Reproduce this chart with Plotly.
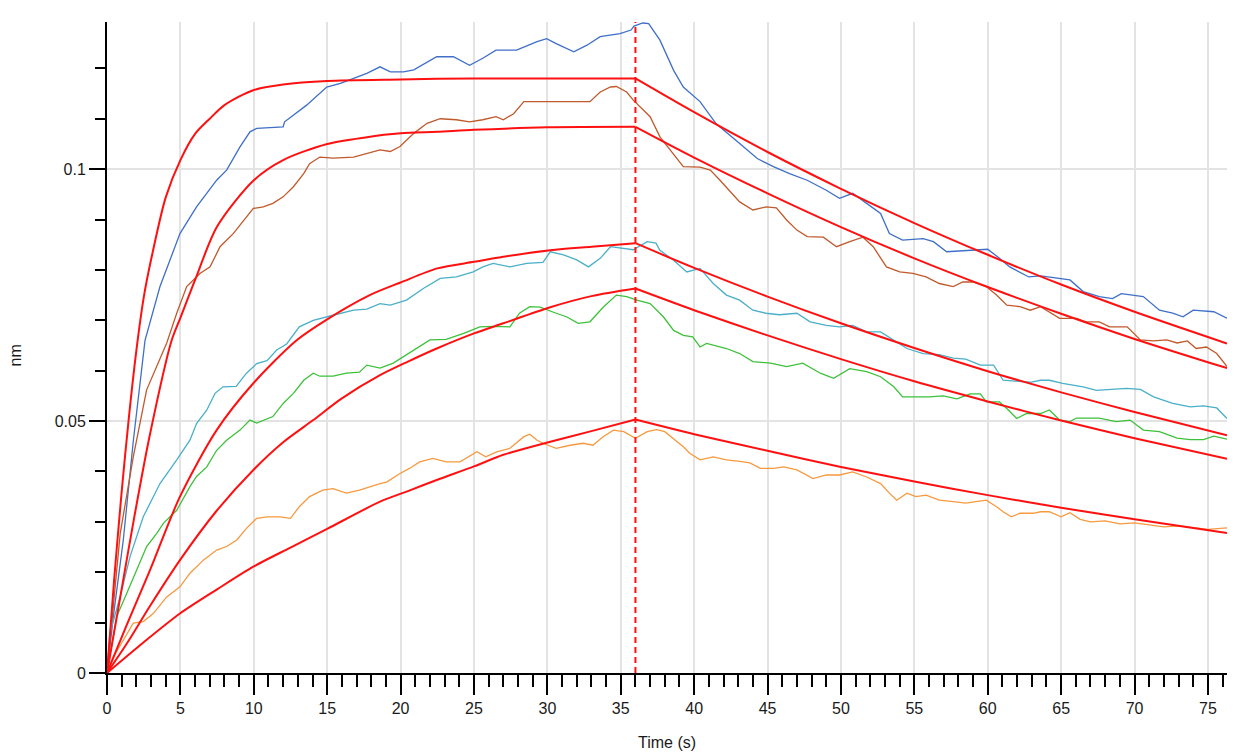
import plotly.graph_objects as go

# ---------------- data ----------------
blue_t = [0, 0.43, 1.11, 1.79, 2.59, 3.61, 4.97, 6.1, 7.47, 8.15, 9.06, 9.74, 10.2, 12.0, 12.1, 13.6, 14.97, 15.9, 16.8, 17.7, 18.6, 19.3, 20.2, 20.9, 22.46, 23.6, 24.7, 25.6, 26.5, 27.9, 29.3, 29.95, 30.6, 31.8, 32.7, 33.6, 34.95, 35.7, 35.9, 36.5, 36.9, 37.67, 38.6, 39.26, 40.4, 41.5, 43.1, 44.3, 45.4, 46.5, 47.7, 49.0, 49.9, 50.8, 51.75, 52.7, 53.3, 54.2, 55.6, 56.3, 57.2, 59.0, 60.0, 60.8, 61.5, 62.8, 63.6, 65.6, 66.5, 67.6, 68.5, 69.1, 70.6, 71.7, 72.6, 73.3, 74.0, 75.4, 76.3]
blue_v = [0, 0.0112, 0.0264, 0.046, 0.066, 0.0767, 0.0872, 0.0925, 0.0978, 0.0998, 0.1044, 0.1074, 0.1081, 0.1084, 0.1094, 0.1127, 0.1163, 0.117, 0.118, 0.119, 0.1203, 0.1193, 0.1193, 0.1197, 0.1223, 0.1223, 0.1206, 0.122, 0.1236, 0.1236, 0.1253, 0.1259, 0.1249, 0.1233, 0.1246, 0.1263, 0.1269, 0.1276, 0.1284, 0.1290, 0.1289, 0.1256, 0.1196, 0.1163, 0.1134, 0.109, 0.1051, 0.1021, 0.1005, 0.0991, 0.0978, 0.0958, 0.0942, 0.0952, 0.0932, 0.0912, 0.0872, 0.0859, 0.0862, 0.0856, 0.0836, 0.084, 0.0841, 0.0823, 0.0806, 0.0786, 0.0788, 0.078, 0.0757, 0.0747, 0.0743, 0.0753, 0.0747, 0.072, 0.0714, 0.0707, 0.072, 0.0717, 0.0704]

brown_t = [0, 0.9, 1.79, 2.7, 4.07, 4.75, 5.43, 6.33, 7.02, 7.7, 8.6, 9.5, 9.97, 10.65, 11.3, 12.0, 12.7, 13.4, 13.8, 14.5, 15.4, 16.8, 17.7, 18.6, 19.3, 19.96, 20.9, 21.8, 22.7, 23.8, 24.7, 25.6, 26.5, 27.0, 27.7, 28.4, 29.7, 31.1, 32.9, 33.6, 34.3, 34.7, 35.4, 35.85, 36.3, 37.0, 37.67, 38.35, 39.26, 40.4, 41.1, 41.76, 42.4, 43.1, 44.0, 44.9, 45.6, 46.3, 47.0, 47.7, 48.8, 49.7, 50.6, 51.5, 52.2, 53.1, 54.0, 54.9, 55.8, 56.7, 57.65, 58.3, 59.0, 59.9, 60.6, 61.3, 62.2, 62.9, 63.6, 64.2, 64.9, 66.05, 66.7, 67.6, 68.3, 69.5, 70.4, 71.3, 72.2, 72.9, 73.6, 74.2, 74.9, 75.6, 76.3]
brown_v = [0, 0.0277, 0.0429, 0.0562, 0.0655, 0.0714, 0.0767, 0.0793, 0.0806, 0.0846, 0.0872, 0.0905, 0.0922, 0.0925, 0.0932, 0.0945, 0.0965, 0.0991, 0.1011, 0.1024, 0.1022, 0.1024, 0.1031, 0.1038, 0.1035, 0.1045, 0.1071, 0.1091, 0.110, 0.1098, 0.1094, 0.1098, 0.1104, 0.1098, 0.111, 0.1134, 0.1134, 0.1134, 0.1134, 0.1153, 0.1163, 0.1164, 0.1153, 0.1137, 0.1124, 0.1104, 0.1064, 0.1038, 0.1005, 0.1004, 0.0998, 0.0978, 0.0958, 0.0935, 0.0919, 0.0925, 0.0923, 0.0899, 0.0879, 0.0866, 0.0865, 0.0846, 0.0856, 0.0865, 0.0846, 0.0806, 0.0796, 0.0793, 0.0786, 0.0773, 0.0767, 0.0776, 0.0776, 0.0767, 0.075, 0.073, 0.0727, 0.072, 0.0727, 0.0717, 0.0704, 0.0704, 0.0697, 0.0697, 0.0687, 0.0687, 0.0661, 0.0659, 0.0661, 0.0655, 0.0659, 0.0644, 0.0647, 0.0634, 0.0608]

cyan_t = [0, 0.2, 0.89, 1.57, 2.47, 3.61, 4.75, 5.65, 6.1, 6.8, 7.36, 7.9, 8.8, 9.5, 10.2, 10.9, 11.56, 12.24, 13.1, 14.05, 15.4, 16.8, 17.7, 18.6, 19.3, 20.4, 21.55, 22.7, 23.8, 24.95, 25.6, 26.3, 27.45, 28.6, 29.7, 30.2, 31.1, 32.0, 32.8, 33.6, 34.3, 35.2, 35.85, 36.8, 37.4, 37.67, 38.6, 39.5, 40.4, 41.3, 42.2, 43.1, 44.0, 44.9, 45.8, 47.0, 47.9, 49.0, 49.9, 50.8, 51.75, 52.7, 53.6, 54.5, 55.6, 56.7, 57.65, 58.5, 59.5, 60.4, 61.05, 61.97, 62.9, 63.6, 64.2, 65.1, 66.5, 67.4, 68.75, 69.45, 70.4, 71.3, 72.6, 73.8, 74.7, 75.6, 76.3]
cyan_v = [0, 0.0079, 0.0151, 0.0231, 0.031, 0.0376, 0.0423, 0.0462, 0.0495, 0.0522, 0.0555, 0.0568, 0.0569, 0.0595, 0.0614, 0.062, 0.0641, 0.0653, 0.0687, 0.07, 0.071, 0.072, 0.0722, 0.0733, 0.073, 0.074, 0.0763, 0.0783, 0.0786, 0.0796, 0.0806, 0.0813, 0.0806, 0.0813, 0.0815, 0.0836, 0.083, 0.082, 0.0806, 0.0823, 0.0846, 0.0842, 0.084, 0.0856, 0.0853, 0.0839, 0.0819, 0.0796, 0.0803, 0.0773, 0.075, 0.074, 0.072, 0.0714, 0.0711, 0.0714, 0.0697, 0.069, 0.0687, 0.069, 0.0677, 0.0677, 0.0661, 0.0644, 0.0634, 0.0632, 0.0625, 0.0623, 0.0611, 0.0611, 0.0581, 0.0579, 0.0577, 0.0581, 0.0581, 0.0575, 0.0568, 0.0561, 0.0563, 0.0565, 0.0563, 0.0548, 0.0535, 0.0528, 0.053, 0.0526, 0.0505]

green_t = [0, 0.66, 1.34, 2.02, 2.7, 3.39, 3.84, 4.75, 5.65, 6.1, 6.8, 7.47, 8.15, 9.06, 9.74, 10.2, 11.3, 12.0, 12.7, 13.4, 14.05, 14.5, 15.4, 16.3, 17.2, 17.7, 18.6, 19.5, 20.3, 21.1, 22.0, 23.1, 24.3, 25.4, 26.3, 27.45, 28.1, 28.8, 29.5, 30.6, 31.3, 32.1, 32.9, 33.8, 34.7, 35.4, 36.1, 37.0, 37.9, 38.6, 39.26, 39.9, 40.4, 40.85, 42.2, 43.1, 44.0, 45.2, 46.3, 47.4, 48.6, 49.5, 50.6, 51.75, 52.7, 53.6, 54.2, 55.1, 56.0, 56.97, 57.9, 58.8, 59.5, 59.9, 60.8, 61.3, 61.97, 62.65, 63.6, 64.2, 64.9, 65.6, 66.05, 67.6, 68.75, 69.7, 70.6, 71.7, 72.9, 73.8, 74.7, 75.4, 76.3]
green_v = [0, 0.0112, 0.0158, 0.0204, 0.0251, 0.0277, 0.0297, 0.0323, 0.037, 0.039, 0.0409, 0.0442, 0.0462, 0.0482, 0.0502, 0.0496, 0.0509, 0.0535, 0.0555, 0.0581, 0.0595, 0.0589, 0.0589, 0.0595, 0.0597, 0.0611, 0.0605, 0.0615, 0.063, 0.0644, 0.0661, 0.0662, 0.0674, 0.0687, 0.0688, 0.0687, 0.0714, 0.0727, 0.0726, 0.0714, 0.0707, 0.0694, 0.0697, 0.0726, 0.075, 0.0747, 0.074, 0.0733, 0.0707, 0.068, 0.067, 0.0667, 0.0647, 0.0654, 0.0644, 0.0634, 0.0618, 0.0615, 0.0608, 0.0615, 0.0595, 0.0585, 0.0604, 0.0598, 0.0588, 0.0568, 0.0548, 0.0548, 0.0548, 0.055, 0.0544, 0.0554, 0.0554, 0.0538, 0.0538, 0.0525, 0.0505, 0.0515, 0.0515, 0.0522, 0.0502, 0.0499, 0.0506, 0.0506, 0.0499, 0.0502, 0.0482, 0.0479, 0.0466, 0.0463, 0.0463, 0.047, 0.0464]

orange_t = [0, 0.43, 1.11, 1.79, 2.47, 3.15, 4.07, 4.97, 5.65, 6.56, 7.47, 8.15, 8.84, 9.5, 10.2, 10.9, 11.8, 12.5, 13.1, 13.8, 14.7, 15.4, 16.3, 17.2, 18.6, 19.05, 19.96, 20.6, 21.3, 22.2, 23.1, 24.05, 25.2, 25.8, 26.55, 27.45, 28.4, 28.8, 29.3, 29.7, 30.6, 31.55, 32.45, 33.1, 33.8, 34.5, 35.2, 36.0, 36.8, 37.45, 38.0, 39.26, 39.7, 40.4, 41.3, 42.2, 43.1, 43.8, 44.5, 45.4, 46.1, 47.0, 48.1, 49.0, 49.9, 50.8, 51.75, 52.7, 53.3, 53.8, 54.5, 55.1, 55.8, 56.7, 57.65, 58.5, 59.2, 59.9, 60.6, 61.05, 61.6, 62.2, 63.1, 63.6, 64.2, 65.0, 65.6, 66.3, 67.0, 68.0, 69.0, 70.0, 71.0, 72.0, 73.0, 74.0, 75.0, 76.3]
orange_v = [0, 0.0032, 0.0065, 0.0099, 0.0102, 0.0118, 0.0151, 0.0171, 0.0198, 0.0224, 0.0244, 0.0251, 0.0264, 0.0287, 0.0307, 0.031, 0.031, 0.0307, 0.033, 0.035, 0.0363, 0.0366, 0.0357, 0.0363, 0.0376, 0.0379, 0.0396, 0.0406, 0.0419, 0.0426, 0.0419, 0.0419, 0.0439, 0.0429, 0.0439, 0.0446, 0.0469, 0.0474, 0.0462, 0.0456, 0.0446, 0.0452, 0.0456, 0.0452, 0.0469, 0.0482, 0.0479, 0.0466, 0.0479, 0.0483, 0.0479, 0.0449, 0.0436, 0.0423, 0.0429, 0.0423, 0.042, 0.0417, 0.0406, 0.0406, 0.0409, 0.0403, 0.0386, 0.0393, 0.0393, 0.0399, 0.0389, 0.0376, 0.0357, 0.0343, 0.0357, 0.035, 0.0353, 0.0343, 0.034, 0.0337, 0.034, 0.0343, 0.033, 0.032, 0.031, 0.0317, 0.0317, 0.032, 0.032, 0.031, 0.0318, 0.0305, 0.030, 0.0302, 0.0296, 0.0298, 0.0294, 0.029, 0.0292, 0.0288, 0.0285, 0.0288]

# fitted curves (association 0-36 s, dissociation 36-76.3 s)
fit1_t = [0, 0.5, 1, 1.5, 2, 2.5, 3, 4, 5, 6, 7, 8, 10, 12, 15, 20, 25, 30, 36, 40, 45, 50, 55, 60, 65, 70, 76.3]
fit1_v = [0, 0.019, 0.036, 0.051, 0.064, 0.0745, 0.082, 0.0944, 0.1018, 0.107, 0.110, 0.1127, 0.1157, 0.1168, 0.1175, 0.1178, 0.118, 0.118, 0.118, 0.1113, 0.1034, 0.0961, 0.0893, 0.0830, 0.0771, 0.0717, 0.0654]

fit2_t = [0, 0.9, 1.8, 2.9, 4.4, 5, 6, 7.5, 10, 12, 15, 17.6, 20, 22.5, 25, 30, 36, 40, 45, 50, 55, 60, 65, 70, 76.3]
fit2_v = [0, 0.015, 0.030, 0.047, 0.066, 0.0705, 0.078, 0.0886, 0.0978, 0.1018, 0.105, 0.1063, 0.1071, 0.1074, 0.1078, 0.1083, 0.1084, 0.1023, 0.0952, 0.0885, 0.0823, 0.0766, 0.0713, 0.0663, 0.0605]

fit3_t = [0, 1.34, 2.93, 4.97, 7.47, 9.97, 12.9, 15, 17.9, 20, 22.5, 25, 27, 30.2, 33, 36, 40, 45, 50, 55, 60, 65, 70, 76.3]
fit3_v = [0, 0.0095, 0.0204, 0.035, 0.0482, 0.0575, 0.066, 0.0702, 0.075, 0.0775, 0.0803, 0.0816, 0.0826, 0.0839, 0.0846, 0.0853, 0.0804, 0.0747, 0.0694, 0.0645, 0.0599, 0.0557, 0.0518, 0.0472]

fit4_t = [0, 1.34, 2.93, 4.97, 7.47, 9.97, 12, 14.05, 16, 18.6, 20.5, 22.46, 25, 27, 30.2, 33, 36, 40, 45, 50, 55, 60, 65, 70, 76.3]
fit4_v = [0, 0.0058, 0.0133, 0.0224, 0.0322, 0.0403, 0.0458, 0.0502, 0.0545, 0.0591, 0.0618, 0.0644, 0.0674, 0.0694, 0.0726, 0.0748, 0.0763, 0.0720, 0.0670, 0.0623, 0.0579, 0.0539, 0.0501, 0.0466, 0.0425]

fit5_t = [0, 2.5, 4.97, 7.5, 9.97, 12.5, 15, 18.6, 20.5, 22.46, 25, 27, 30.2, 33, 36, 40, 45, 50, 55, 60, 65, 70, 76.3]
fit5_v = [0, 0.0061, 0.0118, 0.0166, 0.0211, 0.0249, 0.0286, 0.034, 0.0361, 0.0383, 0.041, 0.0433, 0.0459, 0.048, 0.0503, 0.0474, 0.0441, 0.0409, 0.038, 0.0353, 0.0328, 0.0305, 0.0278]

step_time = 36  # start of dissociation (dashed marker)

# ---------------- figure ----------------
fig = go.Figure()

data_series = [
    (blue_t, blue_v, "#3F6FC8"),
    (brown_t, brown_v, "#C0592B"),
    (cyan_t, cyan_v, "#4AAFC8"),
    (green_t, green_v, "#3DC13A"),
    (orange_t, orange_v, "#F7993F"),
]
for t, v, c in data_series:
    fig.add_trace(go.Scatter(x=t, y=v, mode="lines", line=dict(color=c, width=1.3),
                             showlegend=False, hoverinfo="skip"))

fit_color = "#FF1010"
for t, v in [(fit1_t, fit1_v), (fit2_t, fit2_v), (fit3_t, fit3_v), (fit4_t, fit4_v), (fit5_t, fit5_v)]:
    k = t.index(step_time)
    # association phase (smooth curve) and dissociation phase, joined at the step time
    fig.add_trace(go.Scatter(x=t[:k + 1], y=v[:k + 1], mode="lines",
                             line=dict(color=fit_color, width=2, shape="spline", smoothing=0.8),
                             showlegend=False, hoverinfo="skip"))
    fig.add_trace(go.Scatter(x=t[k:], y=v[k:], mode="lines",
                             line=dict(color=fit_color, width=2, shape="spline", smoothing=0.8),
                             showlegend=False, hoverinfo="skip"))

fig.add_shape(type="line", xref="x", yref="paper", x0=step_time, x1=step_time, y0=0, y1=1,
              line=dict(color=fit_color, width=2, dash="6px,4px"))

font = dict(family="Liberation Sans, Arial, sans-serif", size=16, color="#1a1a1a")

fig.update_layout(
    width=1250, height=754,
    margin=dict(l=107, r=23, t=22, b=81),
    paper_bgcolor="white", plot_bgcolor="white",
    font=font,
    xaxis=dict(range=[0, 76.3], tick0=0, dtick=5, ticks="outside", ticklen=20, tickwidth=2,
               tickcolor="black", showline=True, linecolor="black", linewidth=2,
               showgrid=True, gridcolor="#E3E3E3", gridwidth=1.5, zeroline=False,
               tickfont=font,
               minor=dict(tick0=0, dtick=1, ticks="outside", ticklen=12, tickwidth=2,
                          tickcolor="black", showgrid=False)),
    yaxis=dict(range=[0, 0.1292], tick0=0, dtick=0.05, ticks="outside", ticklen=16, tickwidth=2,
               tickcolor="black", showline=True, linecolor="black", linewidth=2,
               showgrid=True, gridcolor="#E3E3E3", gridwidth=1.5, zeroline=False,
               tickfont=font,
               minor=dict(tick0=0, dtick=0.01, ticks="outside", ticklen=10, tickwidth=2,
                          tickcolor="black", showgrid=False)),
    annotations=[
        dict(text="Time (s)", xref="paper", yref="paper", x=0.5, y=-0.106,
             xanchor="center", yanchor="middle", showarrow=False, font=font),
        dict(text="nm", xref="paper", yref="paper", x=-0.082, y=0.488, textangle=-90,
             xanchor="center", yanchor="middle", showarrow=False, font=font),
    ],
)

fig.write_html("out.html")
